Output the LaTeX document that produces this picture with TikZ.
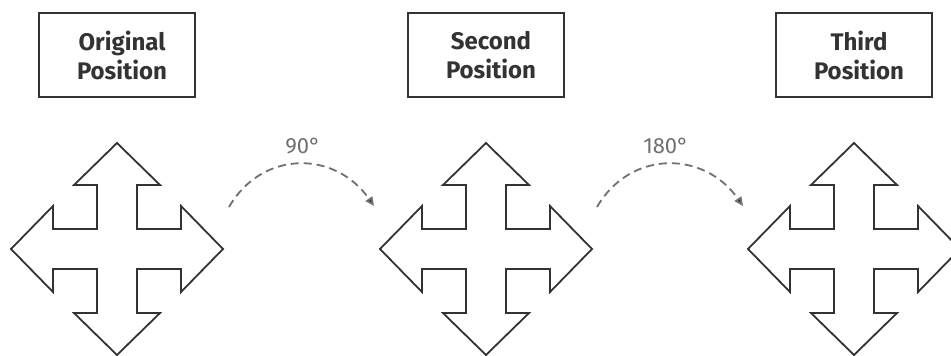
\documentclass[tikz,border=0pt]{standalone}
\usepackage{fontspec}
\setmainfont{Fira Sans}
\usetikzlibrary{arrows.meta}
\definecolor{dashgray}{HTML}{707070}
\definecolor{linegray}{HTML}{333333}
\tikzset{
  posbox/.style={draw=linegray, line width=1.8pt, minimum width=156pt, minimum height=84pt, inner sep=0pt},
  postext/.style={align=center, font=\fontsize{24}{29}\selectfont\bfseries, text=linegray, inner sep=0pt},
  crossline/.style={draw=linegray, line width=1.8pt, line join=miter},
  turnarc/.style={draw=dashgray, line width=1.8pt, dash pattern=on 8pt off 5pt,
    -{Triangle[length=9pt,width=8pt,fill=linegray]}},
  anglelabel/.style={font=\fontsize{22}{26}\selectfont, text=dashgray},
  cross/.pic={
    \draw[crossline] (0,-106) -- (43,-64) -- (20,-64) -- (20,-20) -- (64,-20) -- (64,-43)
      -- (106,0) -- (64,43) -- (64,20) -- (20,20) -- (20,64) -- (43,64) -- (0,106)
      -- (-43,64) -- (-20,64) -- (-20,20) -- (-64,20) -- (-64,43) -- (-106,0)
      -- (-64,-43) -- (-64,-20) -- (-20,-20) -- (-20,-64) -- (-43,-64) -- cycle;
  }
}
\begin{document}
\begin{tikzpicture}[x=1pt,y=-1pt]
\useasboundingbox (0,0) rectangle (951,356);
\clip (0,0) rectangle (951,356);
\node[posbox] (b1) at (117,55) {};
\node[posbox] (b2) at (486,55) {};
\node[posbox] (b3) at (854,55) {};
\node[postext] (t1) at (122,55) {Original\\Position};
\node[postext] (t2) at (491,55) {Second\\Position};
\node[postext] (t3) at (859,55) {Third\\Position};
\coordinate (c1) at (117,249);
\coordinate (c2) at (486,249);
\coordinate (c3) at (854,249);
\pic at (c1) {cross};
\pic at (c2) {cross};
\pic at (c3) {cross};
\coordinate (a1s) at (229,207);
\coordinate (a1e) at (374,206);
\coordinate (a2s) at (597,207);
\coordinate (a2e) at (743,206);
\draw[turnarc] (a1s) .. controls (262,150) and (335,150) .. (a1e);
\draw[turnarc] (a2s) .. controls (630,150) and (704,150) .. (a2e);
\node[anglelabel] (l1) at (303,146) {90°};
\node[anglelabel] (l2) at (666,146) {180°};
\end{tikzpicture}
\end{document}
